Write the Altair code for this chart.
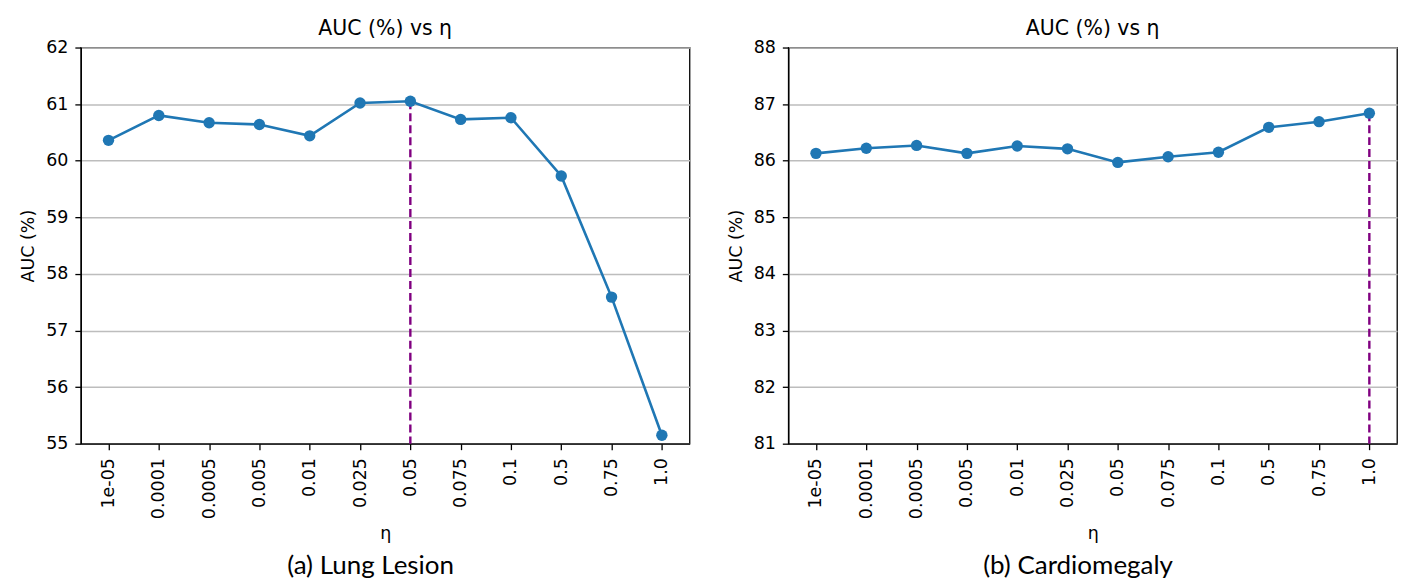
import altair as alt
import pandas as pd

eta_labels = ["1e-05", "0.0001", "0.0005", "0.005", "0.01", "0.025",
              "0.05", "0.075", "0.1", "0.5", "0.75", "1.0"]
lung_auc = [60.36, 60.80, 60.67, 60.64, 60.44, 61.02,
            61.05, 60.73, 60.76, 59.73, 57.59, 55.15]
cardio_auc = [86.13, 86.22, 86.27, 86.13, 86.26, 86.21,
              85.97, 86.07, 86.15, 86.59, 86.69, 86.84]
lung_range = [55, 62]
cardio_range = [81, 88]
subcaptions = ["(a) Lung Lesion", "(b) Cardiomegaly"]
panel_title = "AUC (%) vs η"

LINE = "#1f77b4"
BEST = "#800080"


def panel(values, yrange, caption):
    df = pd.DataFrame({"eta": eta_labels, "auc": values})
    best = df.loc[[df["auc"].idxmax()]].assign(lo=yrange[0])
    x = alt.X("eta:N", sort=eta_labels, title="η",
              scale=alt.Scale(type="point", padding=0.55),
              axis=alt.Axis(labelAngle=-90, grid=False, labelPadding=8,
                            titlePadding=6))
    y = alt.Y("auc:Q", title="AUC (%)",
              scale=alt.Scale(domain=yrange, nice=False, zero=False),
              axis=alt.Axis(values=list(range(yrange[0], yrange[1] + 1)),
                            grid=True, labelPadding=7, titlePadding=8))
    rule = alt.Chart(best).mark_rule(color=BEST, strokeDash=[8, 4],
                                     strokeWidth=2.4).encode(
        x=x, y=y, y2="lo:Q")
    line = alt.Chart(df).mark_line(color=LINE, strokeWidth=2.6).encode(x=x, y=y)
    pts = alt.Chart(df).mark_point(filled=True, color=LINE, size=130,
                                   opacity=1).encode(x=x, y=y)
    layered = alt.layer(rule, line, pts).properties(
        width=610, height=397,
        title=alt.Title(panel_title, fontSize=20.5, font="DejaVu Sans",
                        fontWeight="normal", color="black", offset=-1,
                        anchor="middle"))
    return alt.vconcat(layered, title=alt.Title(
        caption, orient="bottom", font="Lato", fontSize=26,
        fontWeight="normal", color="black", offset=10, dx=16,
        anchor="middle"))


chart = alt.hconcat(
    panel(lung_auc, lung_range, subcaptions[0]),
    panel(cardio_auc, cardio_range, subcaptions[1]),
    spacing=36,
).properties(
    padding={"left": 11, "top": 9, "right": 5, "bottom": 0},
    background="white",
).configure_view(
    stroke="black", strokeWidth=1.3
).configure_axis(
    domainColor="black", domainWidth=1.3,
    tickColor="black", tickWidth=1.3, tickSize=6,
    labelFont="DejaVu Sans", labelFontSize=17.5, labelColor="black",
    titleFont="DejaVu Sans", titleFontSize=17.5, titleFontWeight="normal",
    titleColor="black",
    gridColor="#bdbdbd", gridWidth=1.5,
)

chart.save("out.html", embed_options={"renderer": "svg", "actions": False})
